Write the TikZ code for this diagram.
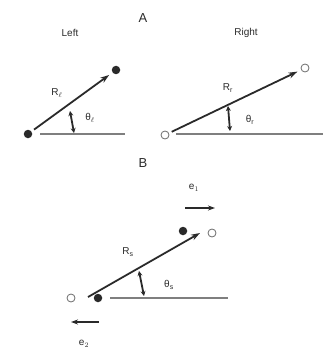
\documentclass[tikz,border=0pt]{standalone}
\usepackage{fontspec}
\setmainfont{Liberation Sans}
\usetikzlibrary{arrows.meta, calc}
\definecolor{ink}{HTML}{2a2a2a}
\tikzset{solid dot/.style={circle, fill=ink, inner sep=0pt, minimum size=8.5pt}}
\tikzset{open dot/.style={circle, draw=ink!70, thick, fill=white, inner sep=0pt, minimum size=8pt}}
\tikzset{ray/.style={line width=1.8pt, ink, -{Stealth[length=9pt, width=6pt]}, shorten <=3pt, shorten >=4pt}}
\tikzset{base/.style={line width=2pt, ink!60}}
\tikzset{angarrow/.style={line width=1.8pt, ink, {Stealth[length=5pt, width=5pt]}-{Stealth[length=5pt, width=5pt]}}}
\tikzset{move/.style={line width=1.5pt, ink, -{Stealth[length=7pt, width=5pt]}}}
\tikzset{lbl/.style={text=ink, font=\fontsize{10}{11}\selectfont, inner sep=1pt}}

\begin{document}
\begin{tikzpicture}[x=1pt, y=-1pt]
		\useasboundingbox (0,0) rectangle (323,350);
		% Headings
		\node[lbl, font=\fontsize{13}{13}\selectfont] (hA) at (143,18) {A};
		\node[lbl] (hLeft) at (70,33) {Left};
		\node[lbl] (hRight) at (246,33) {Right};
		\node[lbl, font=\fontsize{13}{13}\selectfont] (hB) at (143,163) {B};

		% A left
		\node[solid dot] (L1) at (28,134) {};
		\node[solid dot] (L2) at (116,70) {};
		\coordinate (Lend) at (125,134);
		\draw[base] ($(L1)+(12,0)$) -- (Lend);
		\draw[ray] (L1) -- (L2);
		\draw[angarrow] (70,111) -- (74,133);
		\node[lbl] (RL) at (57,93) {R$_{\ell}$};
		\node[lbl] (TL) at (90,118) {θ$_{\ell}$};

		% A right
		\node[open dot] (R1) at (165,135) {};
		\node[open dot] (R2) at (305,68) {};
		\coordinate (Rend) at (323,134);
		\draw[base] ($(R1)+(11,-1)$) -- (Rend);
		\draw[ray] (R1) -- (R2);
		\draw[angarrow] (228,106) -- (230,131);
		\node[lbl] (RR) at (228,88) {R$_{\mathrm{r}}$};
		\node[lbl] (TR) at (250,120) {θ$_{\mathrm{r}}$};

		% B
		\node[open dot] (B1) at (71,298) {};
		\node[solid dot] (B2) at (98,298) {};
		\node[solid dot] (B3) at (183,231) {};
		\node[open dot] (B4) at (212,233) {};
		\coordinate (Bend) at (228,298);
		\draw[base] ($(B2)+(12,0)$) -- (Bend);
		\coordinate (Bfoot) at (88,297);
		\coordinate (Btip) at (200,233);
		\draw[ray, shorten <=0pt, shorten >=0pt] (Bfoot) -- (Btip);
		\draw[angarrow] (139,271) -- (144,296);
		\node[lbl] (RS) at (128,252) {R$_{\mathrm{s}}$};
		\node[lbl] (TS) at (169,285) {θ$_{\mathrm{s}}$};

		% Motions
		\coordinate (e1a) at (185,208);
		\coordinate (e1b) at (215,208);
		\draw[move] (e1a) -- (e1b);
		\node[lbl] (E1) at (194,188) {e$_1$};
		\coordinate (e2a) at (99,322);
		\coordinate (e2b) at (71,322);
		\draw[move] (e2a) -- (e2b);
		\node[lbl] (E2) at (84,344) {e$_2$};
	\end{tikzpicture}
\end{document}
